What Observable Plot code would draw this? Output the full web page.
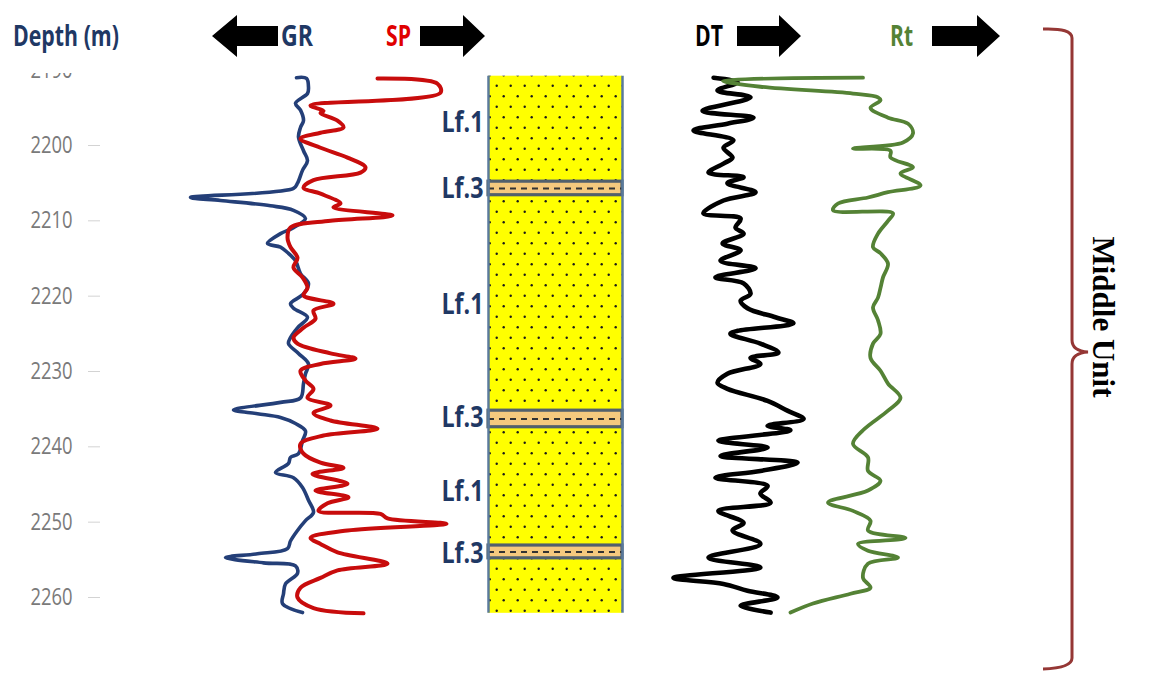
<!DOCTYPE html>
<html lang="en">
<head>
<meta charset="utf-8">
<title>Well log – Middle Unit</title>
<script src="https://cdn.jsdelivr.net/npm/d3@7"></script>
<script src="https://cdn.jsdelivr.net/npm/@observablehq/plot@0.6"></script>
<style>
  html, body { margin: 0; padding: 0; background: #fff; }
  #log { position: relative; width: 1155px; height: 675px; overflow: hidden; background: #fff; }
  #log svg.track { position: absolute; left: 0; top: 73px; overflow: hidden; }
  #decor { position: absolute; left: 0; top: 0; }
</style>
</head>
<body>
<div id="log">
  <svg id="decor" width="1155" height="675" viewBox="0 0 1155 675">
    <g font-family="'Open Sans', sans-serif" font-weight="700" font-size="29">
      <text x="13" y="46" fill="#1f3864" textLength="106" lengthAdjust="spacingAndGlyphs">Depth (m)</text>
      <text x="281" y="46" fill="#1f3864" textLength="32" lengthAdjust="spacingAndGlyphs">GR</text>
      <text x="386" y="46" fill="#e00000" textLength="25" lengthAdjust="spacingAndGlyphs">SP</text>
      <text x="695" y="46" fill="#000000" textLength="28" lengthAdjust="spacingAndGlyphs">DT</text>
      <text x="890" y="46" fill="#548235" textLength="23" lengthAdjust="spacingAndGlyphs">Rt</text>
    </g>
    <g fill="#000">
      <polygon points="212,36 237,15 237,26 278,26 278,46 237,46 237,57"/>
      <polygon points="420,26 463,26 463,15 485,36 463,57 463,46 420,46"/>
      <polygon points="737,26 779,26 779,15 801,36 779,57 779,46 737,46"/>
      <polygon points="932,26 977,26 977,15 1000,36 977,57 977,46 932,46"/>
    </g>
    <path d="M1043,29 Q1072,28 1072,38 L1072,340 Q1072,351 1088,352 Q1072,353 1072,364 L1072,658 Q1072,668 1043,669"
          fill="none" stroke="#953735" stroke-width="3"/>
    <text transform="translate(1093,317) rotate(90)" text-anchor="middle"
          font-family="'Liberation Serif','Times New Roman',serif" font-weight="700" font-size="31" fill="#000">Middle Unit</text>
  </svg>
</div>
<script>
// ---- Depth axis ----
const depthTicks = [2190, 2200, 2210, 2220, 2230, 2240, 2250, 2260];

// ---- Gamma ray (API) ----
const grDepth = [2191.0, 2191.1, 2192.3, 2193.1, 2194.4, 2195.3, 2196.7, 2197.6, 2198.9, 2200.7,
  2202.0, 2203.3, 2205.0, 2205.7, 2206.9, 2207.3, 2208.0, 2208.6, 2209.7, 2210.9,
  2211.7, 2213.0, 2213.5, 2214.2, 2215.3, 2217.0, 2218.3, 2219.7, 2221.0, 2221.6,
  2222.8, 2224.2, 2225.5, 2226.3, 2227.6, 2229.0, 2230.3, 2231.6, 2233.5, 2234.1,
  2235.1, 2235.6, 2236.1, 2236.9, 2237.9, 2239.2, 2240.9, 2241.4, 2242.2, 2243.4,
  2244.1, 2245.4, 2247.1, 2248.7, 2249.8, 2251.1, 2252.5, 2253.5, 2254.2, 2254.7,
  2255.4, 2255.8, 2256.8, 2258.2, 2259.5, 2260.8, 2262.0];
const grValue = [24, 14, 12, 13, 25, 20, 17, 20, 22, 17,
  13, 18, 23, 27, 130, 100, 50, 27, 15, 27,
  40, 53, 40, 33, 25, 20, 12, 17, 30, 27,
  13, 23, 30, 32, 22, 12, 15, 17, 20, 40,
  87, 63, 40, 25, 15, 18, 22, 30, 32, 45,
  27, 18, 12, 7, 15, 23, 30, 33, 63, 95,
  57, 25, 23, 35, 37, 38, 18];

// ---- Spontaneous potential (mV) ----
const spDepth = [2191.1, 2191.8, 2193.0, 2194.7, 2195.4, 2195.7, 2196.7, 2197.6, 2198.3, 2199.1,
  2200.3, 2201.6, 2202.9, 2203.6, 2204.6, 2205.6, 2206.4, 2207.7, 2208.2, 2209.3,
  2210.0, 2210.9, 2212.2, 2213.5, 2214.9, 2216.2, 2217.5, 2218.9, 2219.9, 2221.0,
  2221.9, 2223.0, 2224.2, 2225.5, 2226.3, 2227.6, 2228.3, 2229.0, 2229.9, 2231.2,
  2232.3, 2233.5, 2234.5, 2235.5, 2236.5, 2237.6, 2238.5, 2239.6, 2240.9, 2242.1,
  2242.8, 2243.6, 2244.9, 2245.8, 2246.7, 2247.5, 2248.5, 2248.9, 2249.5, 2250.2,
  2251.1, 2252.1, 2252.9, 2254.0, 2255.5, 2256.4, 2257.4, 2258.7, 2260.0, 2261.4, 2262.1];
const spValue = [-36.5, -6.5, -5, -70, -63.5, -65, -56.5, -53.5, -65, -75,
  -65, -51.5, -42.5, -45, -68.5, -73.5, -65, -55, -58.5, -29,
  -60, -80, -81.5, -80, -76.5, -78.5, -74, -71.5, -73.5, -58.5,
  -68.5, -67.5, -73.5, -78.5, -76.5, -60, -47.5, -65, -75, -72.5,
  -68.5, -71.5, -60, -68.5, -60, -36.5, -63.5, -75, -73.5, -65,
  -53.5, -69, -51.5, -67.5, -51, -61.5, -66, -35, -31.5, -2,
  -51.5, -70, -65, -56.5, -31.5, -56.5, -65, -75, -76.5, -68.5, -43.5];

// ---- Sonic transit time (us/ft) ----
const dtDepth = [2191.0, 2191.6, 2192.7, 2193.6, 2195.4, 2196.3, 2197.1, 2198.0, 2199.3, 2200.3,
  2201.6, 2202.4, 2203.6, 2204.2, 2205.0, 2206.2, 2207.3, 2209.0, 2209.7, 2210.9,
  2211.7, 2213.0, 2213.9, 2215.3, 2216.3, 2217.5, 2218.3, 2219.7, 2220.6, 2221.6,
  2222.8, 2223.6, 2224.6, 2225.0, 2226.3, 2227.5, 2228.2, 2229.0, 2230.3, 2231.5,
  2232.3, 2233.9, 2235.2, 2236.3, 2237.2, 2237.8, 2239.2, 2240.1, 2241.2, 2242.1,
  2243.2, 2244.1, 2245.2, 2246.2, 2247.4, 2248.5, 2250.1, 2251.1, 2252.9, 2254.7,
  2256.0, 2257.4, 2258.2, 2259.1, 2260.0, 2261.1, 2262.0];
const dtValue = [57.7, 65.7, 59.0, 70.0, 54.0, 71.0, 62.3, 51.0, 64.3, 61.0,
  64.0, 61.0, 56.0, 67.7, 62.3, 71.7, 61.0, 54.3, 66.7, 65.0,
  67.7, 60.7, 66.7, 60.0, 71.7, 58.3, 67.7, 70.0, 66.7, 69.0,
  78.3, 84.3, 65.7, 63.3, 73.3, 79.3, 70.0, 73.3, 62.3, 59.0,
  62.3, 75.7, 82.3, 87.7, 75.7, 83.3, 59.3, 75.7, 60.0, 85.7,
  73.3, 58.3, 75.7, 73.3, 76.7, 59.3, 67.7, 64.0, 73.3, 56.0,
  73.3, 44.3, 61.0, 69.0, 79.0, 66.7, 76.7];

// ---- True resistivity (ohm.m) ----
const rtDepth = [2191.0, 2191.4, 2192.2, 2193.1, 2193.6, 2194.0, 2195.0, 2196.3, 2197.1, 2198.4,
  2199.6, 2200.4, 2200.7, 2201.6, 2202.9, 2203.7, 2205.3, 2206.2, 2206.9, 2207.7,
  2208.6, 2209.0, 2210.0, 2211.7, 2213.5, 2214.3, 2215.7, 2217.5, 2218.9, 2220.2,
  2221.5, 2223.2, 2225.0, 2226.3, 2228.2, 2229.9, 2231.6, 2233.5, 2235.2, 2237.8,
  2239.6, 2241.4, 2243.2, 2244.5, 2245.8, 2247.4, 2248.5, 2249.8, 2251.1, 2252.1,
  2252.9, 2253.8, 2254.7, 2255.5, 2257.4, 2258.7, 2259.5, 2260.8, 2262.0];
const rtValue = [130, 18, 48, 122, 142, 144, 136, 150, 166, 170,
  162, 122, 152, 152, 170, 160, 176, 150, 134, 110,
  106, 154, 150, 142, 138, 144, 150, 146, 144, 142,
  138, 142, 144, 138, 136, 144, 150, 160, 150, 130,
  122, 134, 134, 144, 134, 102, 122, 136, 134, 164,
  126, 134, 158, 134, 130, 136, 120, 90, 72];

// ---- Lithofacies column ----
const faciesName = ["Lf.1", "Lf.3", "Lf.1", "Lf.3", "Lf.1", "Lf.3", "Lf.1"];
const faciesTop  = [2190.8, 2204.8, 2206.6, 2235.2, 2237.4, 2253.1, 2254.8];
const faciesBase = [2204.8, 2206.6, 2235.2, 2237.4, 2253.1, 2254.8, 2262.1];
const labelText  = ["Lf.1", "Lf.3", "Lf.1", "Lf.3", "Lf.1", "Lf.3"];
const labelDepth = [2197.0, 2205.7, 2221.2, 2236.1, 2246.0, 2254.2];

// ---- Build tables ----
const zip = (depths, values) => depths.map((d, i) => ({depth: d, value: values[i]}));
const gr = zip(grDepth, grValue);
const sp = zip(spDepth, spValue);
const dt = zip(dtDepth, dtValue);
const rt = zip(rtDepth, rtValue);
const facies = faciesName.map((name, i) => ({name, top: faciesTop[i], base: faciesBase[i]}));
const labels = labelText.map((name, i) => ({name, depth: labelDepth[i]}));

// ---- Shared layout: every track is a full-width layer sharing one depth scale ----
const W = 1155, H = 602;
const yScale = {domain: [2190, 2260], range: [-3.33, 524], axis: null};
const font = "'Open Sans', sans-serif";
const host = document.getElementById("log");

function track(x, marks, extra = {}) {
  const svg = Plot.plot({
    width: W, height: H,
    marginTop: 0, marginRight: 0, marginBottom: 0, marginLeft: 100,
    x: {...x, axis: null},
    y: yScale,
    style: {background: "transparent", overflow: "hidden", fontFamily: font},
    marks,
    ...extra
  });
  svg.classList.add("track");
  host.appendChild(svg);
  return svg;
}

// Narrow a set of text labels so the bold face reads as a condensed one
function condense(svg, selector, ratio) {
  svg.querySelectorAll(selector).forEach(t => {
    const w = t.getComputedTextLength();
    t.setAttribute("textLength", (w * ratio).toFixed(1));
    t.setAttribute("lengthAdjust", "spacingAndGlyphs");
  });
}

// Depth axis
const axisSvg = track({domain: [0, 1], range: [0, 1]}, [
  Plot.axisY({
    ticks: depthTicks, tickSize: 12, tickPadding: 16, tickFormat: d => String(d),
    stroke: "#d3d3d3", fill: "#7a7a7a", fontSize: 23, fontFamily: font, label: null
  })
], {y: {...yScale, axis: undefined}});
condense(axisSvg, "text", 0.8);

// Track 1: GR (increasing to the left) and SP (increasing to the right)
const lineStyle = {curve: "catmull-rom", strokeLinejoin: "round", strokeLinecap: "round"};
track({domain: [0, 140], range: [320, 180]}, [
  Plot.line(gr, {x: "value", y: "depth", stroke: "#243f78", strokeWidth: 3.6, ...lineStyle})
]);
track({domain: [-90, 0], range: [270, 450]}, [
  Plot.line(sp, {x: "value", y: "depth", stroke: "#c80c0c", strokeWidth: 4, ...lineStyle})
]);

// Lithology column
const lf1 = facies.filter(d => d.name === "Lf.1");
const lf3 = facies.filter(d => d.name === "Lf.3");
const colSvg = track({domain: [0, 1], range: [488, 622]}, [
  Plot.rect(lf1, {x1: 0, x2: 1, y1: "top", y2: "base", fill: "url(#sand-dots)"}),
  Plot.rect(lf3, {x1: 0, x2: 1, y1: "top", y2: "base", fill: "#f5c97e", stroke: "#52606c", strokeWidth: 3.2}),
  Plot.ruleY(lf3, {y: d => (d.top + d.base) / 2, x1: 0, x2: 1, stroke: "#333", strokeWidth: 2, strokeDasharray: "6,5"}),
  Plot.ruleX([0, 1], {y1: faciesTop[0], y2: faciesBase[faciesBase.length - 1], stroke: "#5a7a9c", strokeWidth: 2.5}),
  Plot.text(labels, {x: 0, y: "depth", text: "name", textAnchor: "end", dx: -5,
    fontSize: 29, fontWeight: 700, fontFamily: font, fill: "#1f3864"})
]);
condense(colSvg, "text", 0.8);
const ns = "http://www.w3.org/2000/svg";
const defs = document.createElementNS(ns, "defs");
defs.innerHTML =
  '<pattern id="sand-dots" patternUnits="userSpaceOnUse" x="488" y="0" width="14" height="21">' +
  '<rect width="14" height="21" fill="#ffff00"/>' +
  '<circle cx="8.7" cy="12.7" r="1.2" fill="#1a1a1a"/>' +
  '<circle cx="1.7" cy="2.2" r="1.2" fill="#1a1a1a"/></pattern>';
colSvg.prepend(defs);

// Track 2: DT and Rt (both increasing to the right)
track({domain: [40, 100], range: [660, 840]}, [
  Plot.line(dt, {x: "value", y: "depth", stroke: "#000", strokeWidth: 4.6, ...lineStyle})
]);
track({domain: [0, 200], range: [700, 950]}, [
  Plot.line(rt, {x: "value", y: "depth", stroke: "#548235", strokeWidth: 3.8, ...lineStyle})
]);
</script>
</body>
</html>
